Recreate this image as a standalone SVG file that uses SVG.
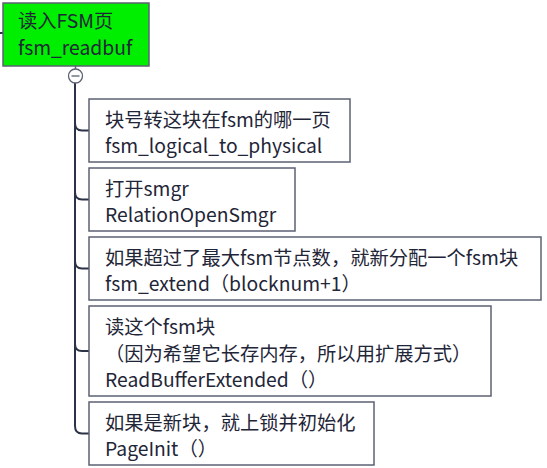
<svg xmlns="http://www.w3.org/2000/svg" width="547" height="468" viewBox="0 0 547 468">
<style>
.box{fill:#ffffff;stroke:#5b6272;stroke-width:1.5}
.root{fill:#00ee00;stroke:#5b6272;stroke-width:1.5}
text{font-family:"Noto Sans CJK SC","Microsoft YaHei",sans-serif;font-size:19.3px;fill:#1f2638}
.conn{fill:none;stroke:#2d3346;stroke-width:2}
</style>
<rect width="547" height="468" fill="#ffffff"/>
<g id="connectors">
<line class="conn" x1="0" y1="33" x2="3" y2="33" stroke-width="1.2"/>
<path class="conn" d="M75,83 V426 Q75,433.5 82,433.5 H89"/>
<path class="conn" d="M75,123 Q75,130.5 82,130.5 H89"/>
<path class="conn" d="M75,192 Q75,199.5 82,199.5 H89"/>
<path class="conn" d="M75,261 Q75,268.5 82,268.5 H89"/>
<path class="conn" d="M75,344 Q75,351 82,351 H89"/>
</g>
<g id="root">
<rect class="root" x="3" y="3" width="146" height="63"/>
<text x="18" y="28">读入FSM页</text>
<text x="18" y="55">fsm_readbuf</text>
<line x1="75.5" y1="66" x2="75.5" y2="69" stroke="#5b6272" stroke-width="1.5"/>
<circle cx="75.5" cy="76" r="7" fill="#ffffff" stroke="#5b6272" stroke-width="1.3"/>
<line x1="71.5" y1="76" x2="79.5" y2="76" stroke="#5b6272" stroke-width="1.3"/>
</g>
<g id="n1">
<rect class="box" x="89" y="99" width="261" height="63"/>
<text x="105" y="127">块号转这块在fsm的哪一页</text>
<text x="105" y="153">fsm_logical_to_physical</text>
</g>
<g id="n2">
<rect class="box" x="89" y="168" width="206" height="63"/>
<text x="105" y="196">打开smgr</text>
<text x="105" y="222">RelationOpenSmgr</text>
</g>
<g id="n3">
<rect class="box" x="89" y="237" width="452" height="63"/>
<text x="105" y="265">如果超过了最大fsm节点数，就新分配一个fsm块</text>
<text x="105" y="291">fsm_extend（blocknum+1）</text>
</g>
<g id="n4">
<rect class="box" x="89" y="306" width="402" height="90"/>
<text x="105" y="334">读这个fsm块</text>
<text x="105" y="361">（因为希望它长存内存，所以用扩展方式）</text>
<text x="105" y="387">ReadBufferExtended（）</text>
</g>
<g id="n5">
<rect class="box" x="89" y="402" width="285" height="63"/>
<text x="105" y="430">如果是新块，就上锁并初始化</text>
<text x="105" y="456">PageInit（）</text>
</g>
</svg>
